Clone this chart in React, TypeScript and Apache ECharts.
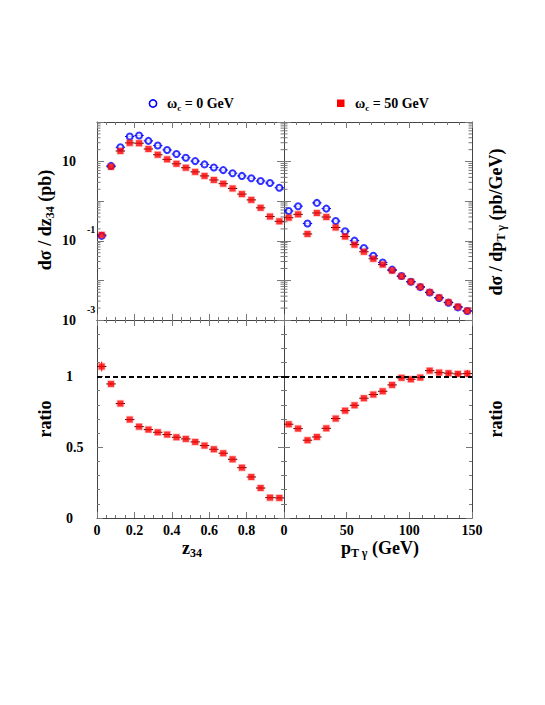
import React, { useEffect, useRef } from 'react';
import * as echarts from 'echarts';

// ---------- data ----------
const zCenters = [0.025, 0.075, 0.125, 0.175, 0.225, 0.275, 0.325, 0.375, 0.425, 0.475, 0.525, 0.575, 0.625, 0.675, 0.725, 0.775, 0.825, 0.875, 0.925, 0.975];
const zBlue = [0.133, 7.8, 23, 43, 45.7, 33.4, 25.4, 19.7, 15.5, 12.5, 10.3, 8.5, 7.1, 6.1, 5.1, 4.35, 3.8, 3.24, 2.88, 2.19];
const zRed = [0.141, 7.4, 18.5, 29.7, 29.1, 20.8, 14.9, 11.4, 8.8, 7.0, 5.5, 4.35, 3.44, 2.77, 2.1, 1.51, 1.08, 0.68, 0.41, 0.31];
const zRatio = [1.071, 0.948, 0.809, 0.696, 0.646, 0.625, 0.606, 0.59, 0.571, 0.559, 0.538, 0.512, 0.486, 0.458, 0.415, 0.356, 0.29, 0.212, 0.144, 0.142];
const zRatioErr = [0.035, 0.008, 0.005, 0.004, 0.004, 0.004, 0.004, 0.004, 0.004, 0.004, 0.004, 0.004, 0.004, 0.004, 0.004, 0.004, 0.004, 0.004, 0.004, 0.004];

const ptCenters = [3.75, 11.25, 18.75, 26.25, 33.75, 41.25, 48.75, 56.25, 63.75, 71.25, 78.75, 86.25, 93.75, 101.25, 108.75, 116.25, 123.75, 131.25, 138.75, 146.25];
const ptBlue = [0.567, 0.745, 0.274, 0.906, 0.65, 0.315, 0.175, 0.101, 0.0656, 0.0418, 0.0283, 0.0187, 0.0129, 0.00925, 0.00676, 0.00494, 0.00361, 0.00274, 0.00208, 0.00168];
const ptRed = [0.383, 0.466, 0.149, 0.504, 0.398, 0.217, 0.128, 0.0798, 0.0529, 0.0351, 0.0251, 0.0177, 0.0127, 0.00925, 0.00689, 0.00504, 0.00368, 0.0028, 0.00217, 0.00171];
const ptRatio = [0.663, 0.632, 0.55, 0.573, 0.634, 0.703, 0.759, 0.797, 0.847, 0.873, 0.896, 0.941, 0.991, 0.981, 0.993, 1.042, 1.028, 1.024, 1.019, 1.021];
const ptRatioErr = [0.005, 0.005, 0.005, 0.005, 0.005, 0.005, 0.005, 0.005, 0.005, 0.006, 0.006, 0.007, 0.008, 0.008, 0.009, 0.01, 0.012, 0.014, 0.018, 0.025];

const zTickLabels = ['0', '0.2', '0.4', '0.6', '0.8'];
const ptTickLabels = ['0', '50', '100', '150'];
const ratioTickLabels = ['0', '0.5', '1'];
const logLabelExponents = [1, -1, -3];

const legendLabels = ['0 GeV', '50 GeV'];

// ---------- style ----------
const FONT = 'Liberation Serif';
const LINE = '#444';
const TICK = '#777';
const BLUE = '#0000ff';
const RED = '#ff0000';
const Z_HALF = 0.025;
const PT_HALF = 3.75;

const grids = [
  { left: 97, top: 122, width: 187, height: 198 },
  { left: 284, top: 122, width: 188, height: 198 },
  { left: 97, top: 320, width: 187, height: 198 },
  { left: 284, top: 320, width: 188, height: 198 },
];

const labelBase = {
  color: '#000',
  fontFamily: FONT,
  fontWeight: 'bold',
  fontSize: 14,
};

function fmtNum(v: number) {
  return String(Math.round(v * 1000) / 1000);
}

function xAxis(grid: number, pos: string, min: number, max: number, interval: number, minorSplit: number, labels: string[] | null) {
  return {
    type: 'value',
    gridIndex: grid,
    position: pos,
    min,
    max,
    interval,
    axisLine: { show: true, onZero: false, lineStyle: { color: LINE, width: 1 } },
    axisTick: { show: true, inside: true, length: 6, lineStyle: { color: TICK } },
    minorTick: { show: true, splitNumber: minorSplit, length: 3, lineStyle: { color: TICK } },
    splitLine: { show: false },
    minorSplitLine: { show: false },
    axisLabel: labels
      ? {
          show: true,
          ...labelBase,
          margin: 5,
          showMinLabel: true,
          showMaxLabel: true,
          formatter: (v: number) => (labels.indexOf(fmtNum(v)) >= 0 ? fmtNum(v) : ''),
        }
      : { show: false },
  };
}

function logAxis(grid: number, pos: string, showLabels: boolean) {
  return {
    type: 'log',
    logBase: 10,
    gridIndex: grid,
    position: pos,
    min: 0.001,
    max: 100,
    splitNumber: 5,
    axisLine: { show: true, onZero: false, lineStyle: { color: LINE, width: 1 } },
    axisTick: { show: true, inside: true, length: 7, lineStyle: { color: TICK } },
    minorTick: { show: false },
    splitLine: { show: false },
    axisLabel: showLabels
      ? {
          show: true,
          margin: 35,
          align: 'left',
          showMinLabel: true,
          showMaxLabel: true,
          formatter: (v: number) => {
            const e = Math.round(Math.log10(v));
            if (logLabelExponents.indexOf(e) < 0) return '';
            if (e === 1) return '{n|10}';
            return '{s|' + e + '}\n{n|10}\n{e| }';
          },
          rich: {
            n: { ...labelBase, lineHeight: 12 },
            s: { ...labelBase, fontSize: 10, lineHeight: 10, padding: [0, 0, 0, 25] },
            e: { ...labelBase, fontSize: 10, lineHeight: 10 },
          },
        }
      : { show: false },
  };
}

function ratioAxis(grid: number, pos: string, showLabels: boolean) {
  return {
    type: 'value',
    gridIndex: grid,
    position: pos,
    min: 0,
    max: 1.4,
    interval: 0.5,
    axisLine: { show: true, onZero: false, lineStyle: { color: LINE, width: 1 } },
    axisTick: { show: true, inside: true, length: 6, lineStyle: { color: TICK } },
    minorTick: { show: true, splitNumber: 5, length: 3, lineStyle: { color: TICK } },
    splitLine: { show: false },
    minorSplitLine: { show: false },
    axisLabel: showLabels
      ? {
          show: true,
          ...labelBase,
          margin: 31,
          align: 'left',
          showMinLabel: true,
          showMaxLabel: true,
          formatter: (v: number) => (ratioTickLabels.indexOf(fmtNum(v)) >= 0 ? fmtNum(v) : ''),
        }
      : { show: false },
  };
}

// log minor tick positions (axis decoration)
const logMinorTicks: number[] = [];
for (let n = -3; n <= 1; n++) {
  for (let k = 2; k <= 9; k++) logMinorTicks.push(k * Math.pow(10, n));
}

function logMinorSeries(axisIdx: number, xmin: number, xmax: number) {
  return {
    type: 'custom',
    xAxisIndex: axisIdx,
    yAxisIndex: axisIdx,
    silent: true,
    z: 1,
    data: logMinorTicks.map((v) => [xmin, v]),
    renderItem: (_p: any, api: any) => {
      const v = api.value(1);
      const a = api.coord([xmin, v]);
      const b = api.coord([xmax, v]);
      return {
        type: 'group',
        children: [
          { type: 'line', shape: { x1: a[0], y1: a[1], x2: a[0] + 3.5, y2: a[1] }, style: { stroke: TICK, lineWidth: 1 } },
          { type: 'line', shape: { x1: b[0] - 3.5, y1: b[1], x2: b[0], y2: b[1] }, style: { stroke: TICK, lineWidth: 1 } },
        ],
      };
    },
  };
}

function errSeries(axisIdx: number, xs: number[], ys: number[], errs: number[] | null, half: number, hColor: string, vColor: string, z: number) {
  return {
    type: 'custom',
    xAxisIndex: axisIdx,
    yAxisIndex: axisIdx,
    silent: true,
    z,
    data: xs.map((x, i) => [x, ys[i], errs ? errs[i] : 0]),
    renderItem: (_p: any, api: any) => {
      const x = api.value(0);
      const y = api.value(1);
      const e = api.value(2);
      const a = api.coord([x - half, y]);
      const b = api.coord([x + half, y]);
      const children: any[] = [
        { type: 'line', shape: { x1: a[0], y1: a[1], x2: b[0], y2: b[1] }, style: { stroke: hColor, lineWidth: 1 } },
      ];
      if (e > 0) {
        const t = api.coord([x, y + e]);
        const bt = api.coord([x, y - e]);
        children.push({ type: 'line', shape: { x1: t[0], y1: t[1], x2: bt[0], y2: bt[1] }, style: { stroke: vColor, lineWidth: 1 } });
      }
      return { type: 'group', children };
    },
  };
}

function blueSeries(axisIdx: number, xs: number[], ys: number[]) {
  return {
    type: 'scatter',
    xAxisIndex: axisIdx,
    yAxisIndex: axisIdx,
    z: 3,
    symbol: 'emptyCircle',
    symbolSize: 6,
    itemStyle: { color: BLUE, borderColor: BLUE, borderWidth: 1.5 },
    data: xs.map((x, i) => [x, ys[i]]),
  };
}

function redSeries(axisIdx: number, xs: number[], ys: number[], withLine: boolean) {
  const s: any = {
    type: 'scatter',
    xAxisIndex: axisIdx,
    yAxisIndex: axisIdx,
    z: 4,
    symbol: 'rect',
    symbolSize: 6,
    itemStyle: { color: RED, borderColor: 'rgba(255,40,40,0.35)', borderWidth: 1.5 },
    data: xs.map((x, i) => [x, ys[i]]),
  };
  if (withLine) {
    s.markLine = {
      silent: true,
      symbol: 'none',
      label: { show: false },
      lineStyle: { color: '#000', width: 1.8, type: [5, 3] },
      data: [{ yAxis: 1 }],
    };
  }
  return s;
}

const titleRich = {
  a: { fontFamily: FONT, fontWeight: 'bold', fontSize: 18, color: '#000', lineHeight: 20, padding: [0, 0, 2, 0], verticalAlign: 'top' },
  b: { fontFamily: FONT, fontWeight: 'bold', fontSize: 12, color: '#000', lineHeight: 12, verticalAlign: 'bottom' },
};
const legendRich = {
  a: { fontFamily: FONT, fontWeight: 'bold', fontSize: 14, color: '#000', lineHeight: 16, padding: [0, 0, 2, 0], verticalAlign: 'top' },
  b: { fontFamily: FONT, fontWeight: 'bold', fontSize: 9, color: '#000', lineHeight: 10, verticalAlign: 'bottom' },
};

function text(x: number, y: number, t: string, rich: any, rotate: boolean, align = 'center') {
  return {
    type: 'text',
    x,
    y,
    rotation: rotate ? Math.PI / 2 : 0,
    style: { text: t, rich, align, verticalAlign: 'middle' },
  };
}

export default function App() {
  const ref = useRef<HTMLDivElement>(null);
  useEffect(() => {
    if (!ref.current) return;
    const chart = echarts.init(ref.current, undefined, { renderer: 'svg' });
    const option: any = {
      animation: false,
      backgroundColor: '#fff',
      grid: grids.map((g) => ({ ...g, containLabel: false, outerBoundsMode: 'none' })),
      xAxis: [
        xAxis(0, 'bottom', 0, 1, 0.2, 4, null),
        xAxis(0, 'top', 0, 1, 0.2, 4, null),
        xAxis(1, 'bottom', 0, 150, 50, 5, null),
        xAxis(1, 'top', 0, 150, 50, 5, null),
        xAxis(2, 'bottom', 0, 1, 0.2, 4, zTickLabels),
        xAxis(2, 'top', 0, 1, 0.2, 4, null),
        xAxis(3, 'bottom', 0, 150, 50, 5, ptTickLabels),
        xAxis(3, 'top', 0, 150, 50, 5, null),
      ],
      yAxis: [
        logAxis(0, 'left', true),
        logAxis(0, 'right', false),
        logAxis(1, 'left', false),
        logAxis(1, 'right', false),
        ratioAxis(2, 'left', true),
        ratioAxis(2, 'right', false),
        ratioAxis(3, 'left', false),
        ratioAxis(3, 'right', false),
      ],
      series: [
        logMinorSeries(0, 0, 1),
        errSeries(0, zCenters, zBlue, null, Z_HALF, BLUE, BLUE, 2),
        errSeries(0, zCenters, zRed, null, Z_HALF, '#300', RED, 2),
        blueSeries(0, zCenters, zBlue),
        redSeries(0, zCenters, zRed, false),

        logMinorSeries(2, 0, 150),
        errSeries(2, ptCenters, ptBlue, null, PT_HALF, BLUE, BLUE, 2),
        errSeries(2, ptCenters, ptRed, null, PT_HALF, '#300', RED, 2),
        blueSeries(2, ptCenters, ptBlue),
        redSeries(2, ptCenters, ptRed, false),

        errSeries(4, zCenters, zRatio, zRatioErr, Z_HALF, '#300', RED, 2),
        redSeries(4, zCenters, zRatio, true),

        errSeries(6, ptCenters, ptRatio, ptRatioErr, PT_HALF, '#300', RED, 2),
        redSeries(6, ptCenters, ptRatio, true),
      ],
      graphic: [
        { type: 'circle', shape: { cx: 153, cy: 103.5, r: 3.6 }, style: { fill: 'none', stroke: BLUE, lineWidth: 1.6 } },
        text(167, 104, '{a|ω}{b|c}{a| = ' + legendLabels[0] + '}', legendRich, false, 'left'),
        { type: 'rect', shape: { x: 337, y: 99.5, width: 7.5, height: 7.5 }, style: { fill: RED } },
        text(355, 104, '{a|ω}{b|c}{a| = ' + legendLabels[1] + '}', legendRich, false, 'left'),
        text(46, 220, '{a|dσ / dz}{b|34}{a| (pb)}', titleRich, true),
        text(497, 222, '{a|dσ / dp}{b|T γ}{a| (pb/GeV)}', titleRich, true),
        text(46, 419, '{a|ratio}', titleRich, true),
        text(497, 419, '{a|ratio}', titleRich, true),
        text(192, 549, '{a|z}{b|34}', titleRich, false),
        text(380, 549, '{a|p}{b|T γ}{a| (GeV)}', titleRich, false),
      ],
    };
    chart.setOption(option);
    return () => chart.dispose();
  }, []);
  return <div ref={ref} style={{ position: 'absolute', left: 0, top: 0, width: 545, height: 705 }} />;
}
